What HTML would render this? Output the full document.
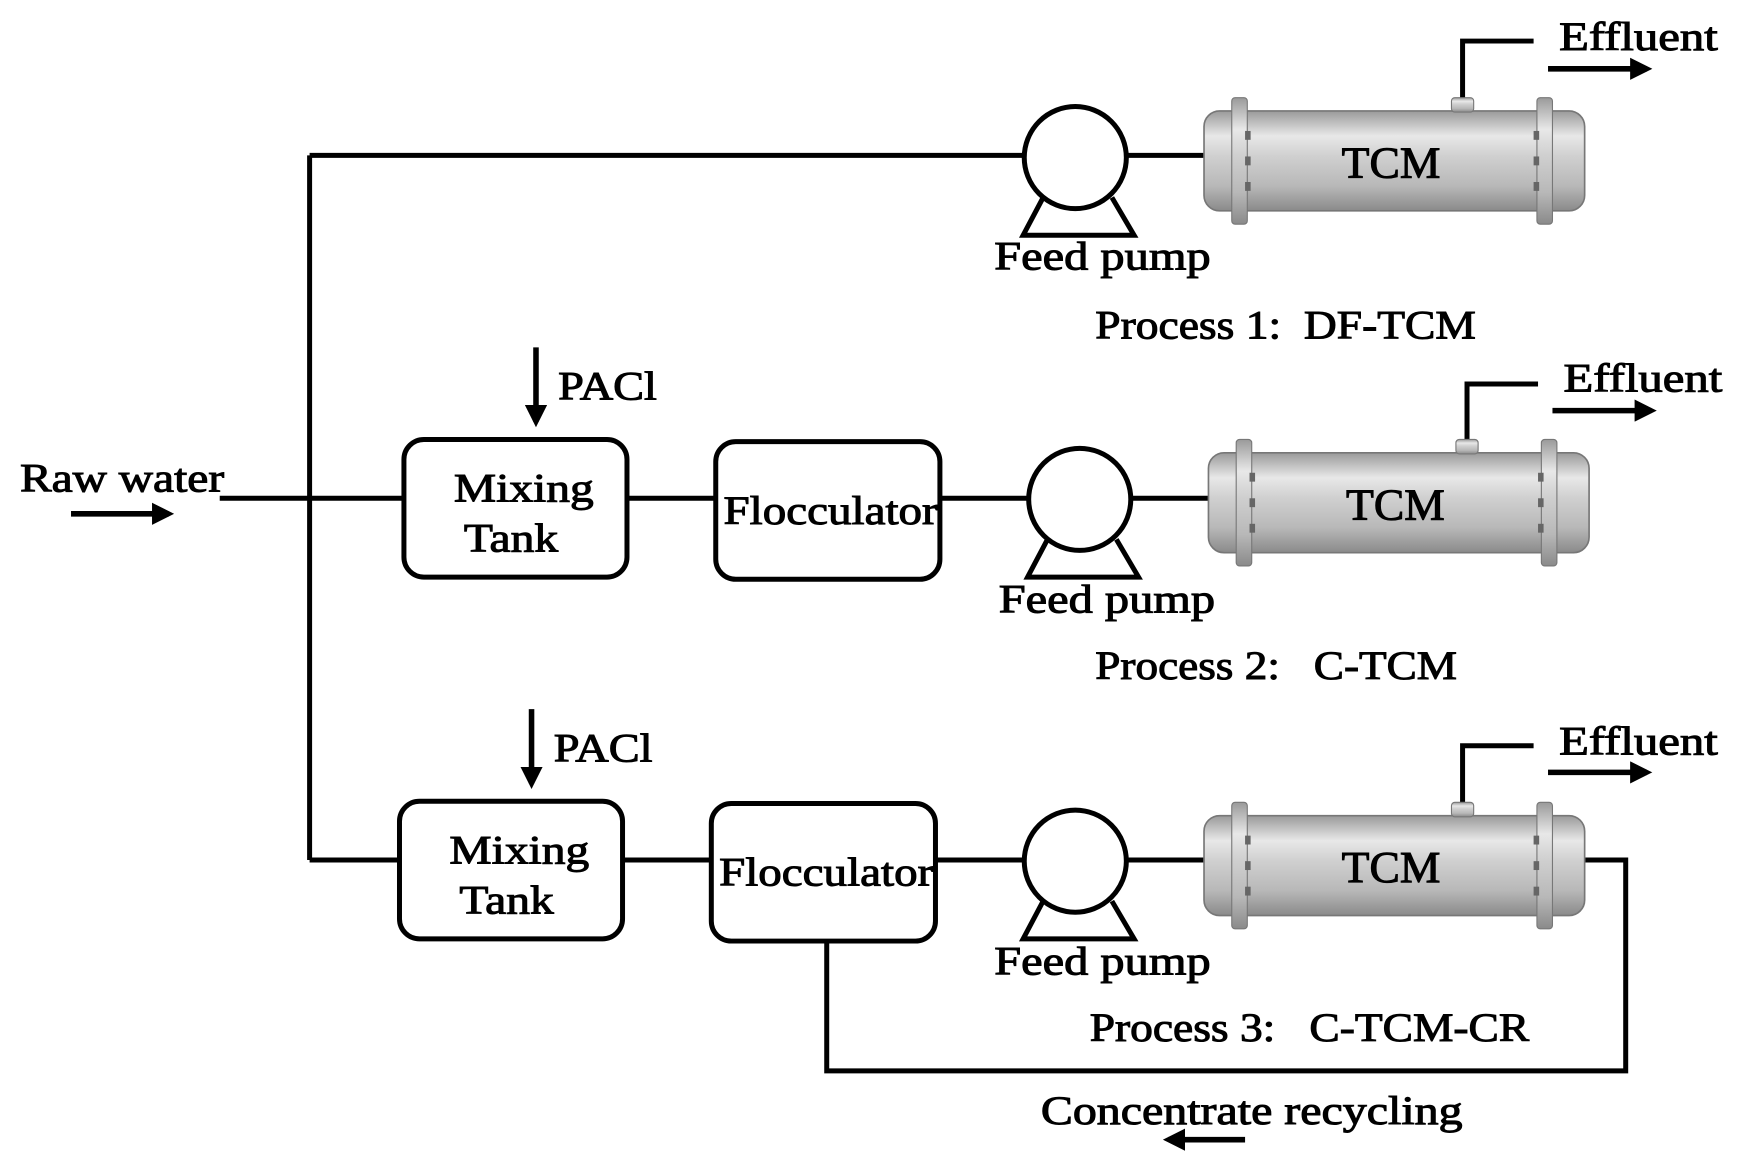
<!DOCTYPE html>
<html><head><meta charset="utf-8"><style>
html,body{margin:0;padding:0;background:#fff}
svg{display:block}
text{font-family:"Liberation Serif",serif;fill:#000;stroke:#000;stroke-width:0.9}
</style></head><body>
<svg width="1740" height="1173" viewBox="0 0 1568 1057" preserveAspectRatio="none" xmlns="http://www.w3.org/2000/svg">
<defs>
<linearGradient id="g" x1="0" y1="0" x2="0" y2="1">
<stop offset="0" stop-color="#9a9a9a"/><stop offset="0.25" stop-color="#e8e8e8"/><stop offset="0.45" stop-color="#d0d0d0"/><stop offset="0.75" stop-color="#b8b8b8"/><stop offset="1" stop-color="#8a8a8a"/>
</linearGradient>
<marker id="ah" markerWidth="4" markerHeight="4" refX="3" refY="2" orient="auto" markerUnits="strokeWidth"><path d="M0,0 L4,2 L0,4z" fill="#000"/></marker>
<g id="tcm">
<rect x="0" y="0" width="343" height="90" rx="14" fill="url(#g)" stroke="#777" stroke-width="1.5"/>
<rect x="223" y="-12" width="20" height="13" rx="3" fill="url(#g)" stroke="#777"/>
<rect x="25" y="-12" width="14" height="114" rx="3" fill="url(#g)" stroke="#777"/>
<rect x="300" y="-12" width="14" height="114" rx="3" fill="url(#g)" stroke="#777"/>
<g fill="#666"><rect x="37" y="18" width="5" height="8"/><rect x="37" y="41" width="5" height="8"/><rect x="37" y="64" width="5" height="8"/>
<rect x="297" y="18" width="5" height="8"/><rect x="297" y="41" width="5" height="8"/><rect x="297" y="64" width="5" height="8"/></g>
<text x="124" y="60" font-size="40" textLength="89" lengthAdjust="spacingAndGlyphs">TCM</text>
</g>
<g id="pump" fill="none" stroke="#000" stroke-width="4.5">
<path d="M-29,36 L-47,70 L53,70 L33,36" fill="#fff"/>
<circle cx="0" cy="0" r="46" fill="#fff"/>
</g>
</defs>
<g stroke="#000" stroke-width="4.5" fill="none">
<path d="M279,140 V775"/>
<path d="M279,140 H925 M1015,140 H1085"/>
<path d="M198,449 H365 M565,449 H645 M847,449 H927 M1019,449 H1089"/>
<path d="M279,775 H361 M561,775 H641 M843,775 H923 M1015,775 H1085"/>
<path d="M1428,775 H1465 V965 H745 V848"/>
<path d="M1318,88 V37 H1382 M1322,396 V346 H1386 M1318,723 V672 H1382"/>
<rect x="364" y="396" width="201" height="124" rx="18"/>
<rect x="645" y="398" width="202" height="124" rx="18"/>
<rect x="360" y="722" width="201" height="124" rx="18"/>
<rect x="641" y="724" width="202" height="124" rx="18"/>
</g>
<g stroke="#000" stroke-width="5" fill="none">
<path d="M483,313 V380" marker-end="url(#ah)"/>
<path d="M479,639 V706" marker-end="url(#ah)"/>
<path d="M64,463 H152" marker-end="url(#ah)"/>
<path d="M1395,62 H1484" marker-end="url(#ah)"/>
<path d="M1399,370 H1488" marker-end="url(#ah)"/>
<path d="M1395,696 H1484" marker-end="url(#ah)"/>
<path d="M1122,1027 H1053" marker-end="url(#ah)"/>
</g>
<use href="#pump" x="969" y="142"/>
<use href="#pump" x="973" y="450"/>
<use href="#pump" x="969" y="776"/>
<use href="#tcm" x="1085" y="100"/>
<use href="#tcm" x="1089" y="408"/>
<use href="#tcm" x="1085" y="735"/>
<g font-size="36" lengthAdjust="spacingAndGlyphs">
<text x="1405" y="45" textLength="143" lengthAdjust="spacingAndGlyphs">Effluent</text>
<text x="1409" y="353" textLength="143" lengthAdjust="spacingAndGlyphs">Effluent</text>
<text x="1405" y="680" textLength="143" lengthAdjust="spacingAndGlyphs">Effluent</text>
<text x="896" y="243" textLength="195" lengthAdjust="spacingAndGlyphs">Feed pump</text>
<text x="900" y="552" textLength="195" lengthAdjust="spacingAndGlyphs">Feed pump</text>
<text x="896" y="878" textLength="195" lengthAdjust="spacingAndGlyphs">Feed pump</text>
<text x="987" y="305" xml:space="preserve" textLength="343" lengthAdjust="spacingAndGlyphs">Process 1:  DF-TCM</text>
<text x="987" y="612" xml:space="preserve" textLength="326" lengthAdjust="spacingAndGlyphs">Process 2:   C-TCM</text>
<text x="982" y="938" xml:space="preserve" textLength="396" lengthAdjust="spacingAndGlyphs">Process 3:   C-TCM-CR</text>
<text x="938" y="1013" textLength="380" lengthAdjust="spacingAndGlyphs">Concentrate recycling</text>
<text x="503" y="360" textLength="89" lengthAdjust="spacingAndGlyphs">PACl</text>
<text x="499" y="686" textLength="89" lengthAdjust="spacingAndGlyphs">PACl</text>
<text x="18" y="443" textLength="184" lengthAdjust="spacingAndGlyphs">Raw water</text>
<text x="409" y="452" textLength="126" lengthAdjust="spacingAndGlyphs">Mixing</text>
<text x="418" y="497" textLength="85" lengthAdjust="spacingAndGlyphs">Tank</text>
<text x="405" y="778" textLength="126" lengthAdjust="spacingAndGlyphs">Mixing</text>
<text x="414" y="823" textLength="85" lengthAdjust="spacingAndGlyphs">Tank</text>
<text x="652" y="472" textLength="193" lengthAdjust="spacingAndGlyphs">Flocculator</text>
<text x="648" y="798" textLength="193" lengthAdjust="spacingAndGlyphs">Flocculator</text>
</g>
</svg>
</body></html>
